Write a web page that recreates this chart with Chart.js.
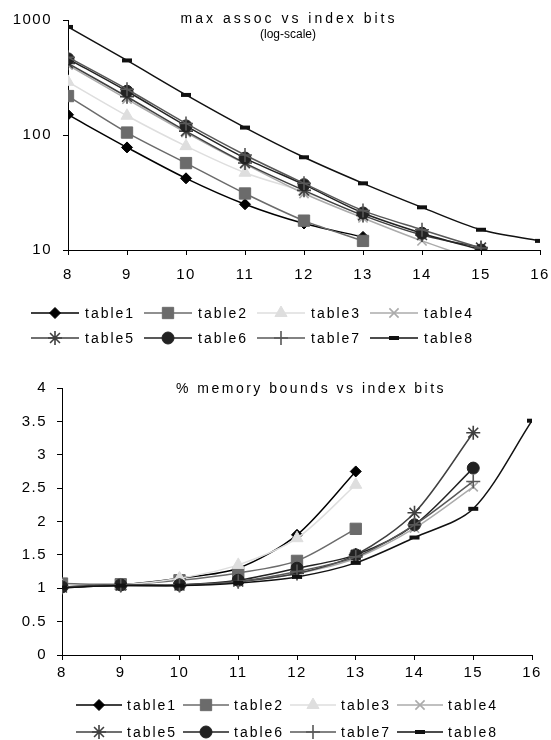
<!DOCTYPE html>
<html>
<head>
<meta charset="utf-8">
<script src="https://cdn.jsdelivr.net/npm/chart.js@4.4.0/dist/chart.umd.min.js"></script>
<style>
  html, body { margin: 0; padding: 0; background: #fff; }
  #wrap { position: relative; width: 551px; height: 740px; }
  canvas { position: absolute; left: 0; }
</style>
</head>
<body>
<div id="wrap">
  <canvas id="assocChart" width="551" height="360" style="top:0"></canvas>
  <canvas id="memChart" width="551" height="380" style="top:360px"></canvas>
</div>
<script>
const indexBits = [8, 9, 10, 11, 12, 13, 14, 15, 16];
const tableNames = ["table1", "table2", "table3", "table4", "table5", "table6", "table7", "table8"];

// max assoc vs index bits (log scale)
const assoc1 = [150, 78, 42, 25, 17, 13, null, null, null];
const assoc2 = [218, 105, 57, 31, 18, 12, null, null, null];
const assoc3 = [290, 147, 80, 47, 32, 20, null, null, null];
const assoc4 = [405, 205, 105, 56, 31, 19, 12, 8, null];
const assoc5 = [420, 215, 108, 57, 33, 20, 13.5, 10.5, null];
const assoc6 = [460, 240, 120, 63, 37, 21, 14, 10, null];
const assoc7 = [475, 250, 126, 67, 38, 22, 15, 10.4, null];
const assoc8 = [870, 445, 223, 116, 64, 38, 23.5, 15, 12];

// % memory bounds vs index bits
const mem1 = [1.02, 1.05, 1.15, 1.3, 1.8, 2.75, null, null, null];
const mem2 = [1.07, 1.06, 1.12, 1.23, 1.41, 1.89, null, null, null];
const mem3 = [1.03, 1.05, 1.15, 1.35, 1.75, 2.55, null, null, null];
const mem4 = [1.02, 1.04, 1.05, 1.1, 1.22, 1.45, 1.9, 2.52, null];
const mem5 = [1.01, 1.04, 1.04, 1.1, 1.22, 1.5, 2.13, 3.33, null];
const mem6 = [1.02, 1.05, 1.05, 1.12, 1.3, 1.5, 1.95, 2.8, null];
const mem7 = [1.02, 1.05, 1.05, 1.1, 1.25, 1.47, 1.95, 2.6, null];
const mem8 = [1.01, 1.04, 1.04, 1.08, 1.17, 1.38, 1.76, 2.19, 3.51];

const yTicksAssoc = [10, 100, 1000];

// series look
const lineColors = ["#000000", "#6b6b6b", "#dedede", "#ababab", "#404040", "#222222", "#585858", "#111111"];
const markerStyles = ["rectRot", "rect", "triangle", "crossRot", "star", "circle", "cross", "line"];
const markerSizes = [5.5, 8, 7, 6.5, 7, 6, 7, 5];
const markerWidths = [1, 1, 1, 1.6, 1.6, 1, 1.6, 4];

const FONT = '"Liberation Sans", Arial, sans-serif';

function makeDatasets(series) {
  return series.map((vals, i) => ({
    label: tableNames[i],
    data: indexBits.map((b, k) => ({ x: b, y: vals[k] })).filter(p => p.y !== null),
    borderColor: lineColors[i],
    backgroundColor: lineColors[i],
    borderWidth: 1.5,
    tension: 0.3,
    pointStyle: markerStyles[i],
    pointRadius: markerSizes[i],
    pointHoverRadius: markerSizes[i],
    pointBackgroundColor: lineColors[i],
    pointBorderColor: lineColors[i],
    pointBorderWidth: markerWidths[i],
    order: 8 - i,
  }));
}

const overlay = {
  id: "overlay",
  beforeDraw(chart) {
    chart.ctx.letterSpacing = "1.5px";
  },
  afterDraw(chart, args, opts) {
    const ctx = chart.ctx;
    ctx.save();
    ctx.fillStyle = "#000";
    ctx.textAlign = "center";
    ctx.textBaseline = "alphabetic";
    opts.titles.forEach(t => {
      ctx.font = t.font;
      ctx.letterSpacing = t.spacing;
      ctx.fillText(t.text, t.x, t.y);
    });

    // legend: line with marker, then label
    const lg = opts.legend;
    ctx.font = "14px " + FONT;
    ctx.letterSpacing = "2px";
    ctx.textAlign = "left";
    ctx.textBaseline = "middle";
    chart.data.datasets.forEach((ds, i) => {
      const x = lg.x + (i % 4) * lg.dx;
      const y = lg.rows[Math.floor(i / 4)];
      ctx.strokeStyle = ds.borderColor;
      ctx.lineWidth = ds.borderWidth;
      ctx.beginPath();
      ctx.moveTo(x, y);
      ctx.lineTo(x + lg.len, y);
      ctx.stroke();
      ctx.fillStyle = ds.pointBackgroundColor;
      ctx.strokeStyle = ds.pointBorderColor;
      ctx.lineWidth = ds.pointBorderWidth;
      Chart.helpers.drawPoint(ctx, {
        pointStyle: ds.pointStyle, radius: ds.pointRadius,
        rotation: 0, borderWidth: ds.pointBorderWidth
      }, x + lg.len / 2, y);
      ctx.fillStyle = "#000";
      ctx.fillText(ds.label, x + lg.len + lg.gap, y + 1);
    });
    ctx.restore();
  }
};

function axisStyle(extra) {
  return Object.assign({
    grid: { display: true, drawOnChartArea: false, drawTicks: true, tickLength: 5, color: "#000", lineWidth: 1 },
    border: { display: true, color: "#000", width: 1 },
  }, extra);
}

function fixX(s) {
  s.height = 30;
  s.paddingLeft = 0;
  s.paddingRight = 0;
}

// top chart
new Chart(document.getElementById("assocChart"), {
  type: "line",
  data: {
    datasets: makeDatasets([assoc1, assoc2, assoc3, assoc4, assoc5, assoc6, assoc7, assoc8]),
  },
  options: {
    responsive: false,
    animation: false,
    layout: { padding: { left: 0, right: 11, top: 17, bottom: 80 } },
    plugins: {
      legend: { display: false },
      tooltip: { enabled: false },
      overlay: {
        titles: [
          { text: "max assoc vs index bits", x: 289, y: 23, font: "14px " + FONT, spacing: "3px" },
          { text: "(log-scale)", x: 288, y: 38, font: "12px " + FONT, spacing: "0px" },
        ],
        legend: { x: 31, dx: 113, len: 48, gap: 6, rows: [313, 338] },
      },
    },
    scales: {
      x: axisStyle({
        type: "linear", min: 8, max: 16,
        afterFit: fixX,
        ticks: { stepSize: 1, padding: 11, color: "#000", font: { size: 15, family: FONT } },
      }),
      y: axisStyle({
        type: "logarithmic", min: 10, max: 1000,
        afterFit: s => { s.width = 68; },
        afterBuildTicks: s => { s.ticks = yTicksAssoc.map(v => ({ value: v })); },
        ticks: { padding: 11, color: "#000", font: { size: 15, family: FONT }, callback: v => String(v) },
      }),
    },
  },
  plugins: [overlay],
});

// bottom chart
new Chart(document.getElementById("memChart"), {
  type: "line",
  data: {
    datasets: makeDatasets([mem1, mem2, mem3, mem4, mem5, mem6, mem7, mem8]),
  },
  options: {
    responsive: false,
    animation: false,
    layout: { padding: { left: 0, right: 19, top: 28, bottom: 55 } },
    plugins: {
      legend: { display: false },
      tooltip: { enabled: false },
      overlay: {
        titles: [
          { text: "% memory bounds vs index bits", x: 311, y: 33, font: "14px " + FONT, spacing: "2.5px" },
        ],
        legend: { x: 76, dx: 107, len: 46, gap: 5, rows: [345, 372] },
      },
    },
    scales: {
      x: axisStyle({
        type: "linear", min: 8, max: 16,
        afterFit: fixX,
        ticks: { stepSize: 1, padding: 4, color: "#000", font: { size: 15, family: FONT } },
      }),
      y: axisStyle({
        type: "linear", min: 0, max: 4,
        afterFit: s => { s.width = 62; },
        ticks: { stepSize: 0.5, padding: 10, color: "#000", font: { size: 15, family: FONT }, callback: v => String(v) },
      }),
    },
  },
  plugins: [overlay],
});
</script>
</body>
</html>
